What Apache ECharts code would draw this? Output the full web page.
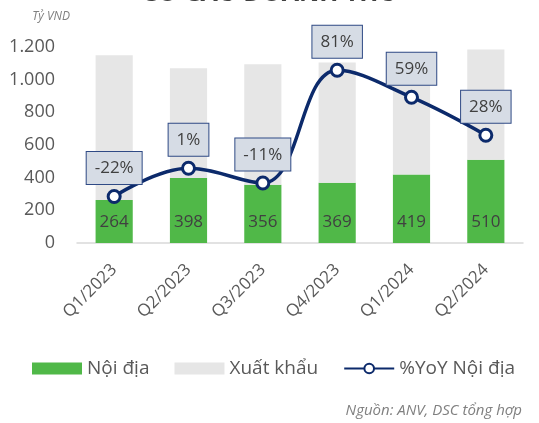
<!DOCTYPE html>
<html>
<head>
<meta charset="utf-8">
<script src="https://cdn.jsdelivr.net/npm/echarts@6/dist/echarts.min.js"></script>
<style>
  html, body { margin: 0; padding: 0; background: #fff; }
  #main { width: 539px; height: 423px; }
</style>
</head>
<body>
<div id="main"></div>
<script>
// data
const quarters = ['Q1/2023', 'Q2/2023', 'Q3/2023', 'Q4/2023', 'Q1/2024', 'Q2/2024']
const noiDia = [264, 398, 356, 369, 419, 510]
const xuatKhau = [886, 672, 739, 736, 701, 675]
const yoyNoiDia = [-22, 1, -11, 81, 59, 28]
const yTicks = [0, 200, 400, 600, 800, 1000, 1200]

const font = 'Open Sans'
const grey = '#595959'
const navy = '#0c2a6b'

const chart = echarts.init(document.getElementById('main'))

const option = {
  textStyle: { fontFamily: font },
  title: {
    text: 'CƠ CẤU DOANH THU',
    left: 'center',
    top: -24,
    textStyle: { fontFamily: font, fontSize: 25, fontWeight: 'bold', color: '#404040' }
  },
  grid: { left: 77, right: 16, top: 47, bottom: 180 },
  legend: {
    left: 27,
    top: 354,
    itemWidth: 50,
    itemHeight: 12,
    itemGap: 25,
    textStyle: { fontSize: 19, color: grey },
    data: [
      { name: 'Nội địa', icon: 'rect' },
      { name: 'Xuất khẩu', icon: 'rect' },
      { name: '%YoY Nội địa' }
    ]
  },
  xAxis: {
    type: 'category',
    data: quarters,
    axisLine: { lineStyle: { color: '#d9d9d9', width: 1.5 } },
    axisTick: { show: false },
    axisLabel: { rotate: 45, fontSize: 17, color: grey, margin: 24 }
  },
  yAxis: [
    {
      type: 'value',
      min: yTicks[0],
      max: yTicks[yTicks.length - 1],
      interval: 200,
      name: 'Tỷ VND',
      nameLocation: 'end',
      nameGap: 24,
      nameTextStyle: { fontSize: 12, fontStyle: 'italic', color: '#808080', align: 'right', padding: [0, 7, 0, 0] },
      splitLine: { show: false },
      axisLine: { show: false },
      axisTick: { show: false },
      axisLabel: {
        fontSize: 18,
        color: grey,
        margin: 22,
        formatter: (v) => String(v).replace(/\B(?=(\d{3})+(?!\d))/g, '.')
      }
    },
    {
      type: 'value',
      min: -60,
      max: 100,
      show: false,
      splitLine: { show: false }
    }
  ],
  series: [
    {
      name: 'Nội địa',
      type: 'bar',
      stack: 'dt',
      barWidth: '50%',
      itemStyle: { color: '#50b848' },
      label: {
        show: true,
        position: 'insideBottom',
        distance: 12,
        fontSize: 17,
        color: '#404040'
      },
      data: noiDia
    },
    {
      name: 'Xuất khẩu',
      type: 'bar',
      stack: 'dt',
      barWidth: '50%',
      itemStyle: { color: '#e6e6e6' },
      data: xuatKhau
    },
    {
      name: '%YoY Nội địa',
      type: 'line',
      yAxisIndex: 1,
      smooth: 0.4,
      symbol: 'circle',
      symbolSize: 12,
      lineStyle: { color: navy, width: 3.5 },
      itemStyle: { color: '#fff', borderColor: navy, borderWidth: 3 },
      label: {
        show: true,
        position: 'top',
        distance: 5,
        formatter: '{c}%',
        fontSize: 17,
        color: '#404040',
        backgroundColor: '#d6dce5',
        borderColor: '#2f4a85',
        borderWidth: 1,
        padding: [8, 8, 7, 8]
      },
      z: 5,
      data: yoyNoiDia
    }
  ],
  graphic: [
    {
      type: 'text',
      right: 17,
      bottom: 5,
      style: {
        text: 'Nguồn: ANV, DSC tổng hợp',
        font: 'italic 15px "Open Sans"',
        fill: '#808080'
      }
    }
  ]
}

chart.setOption(option)
</script>
</body>
</html>
